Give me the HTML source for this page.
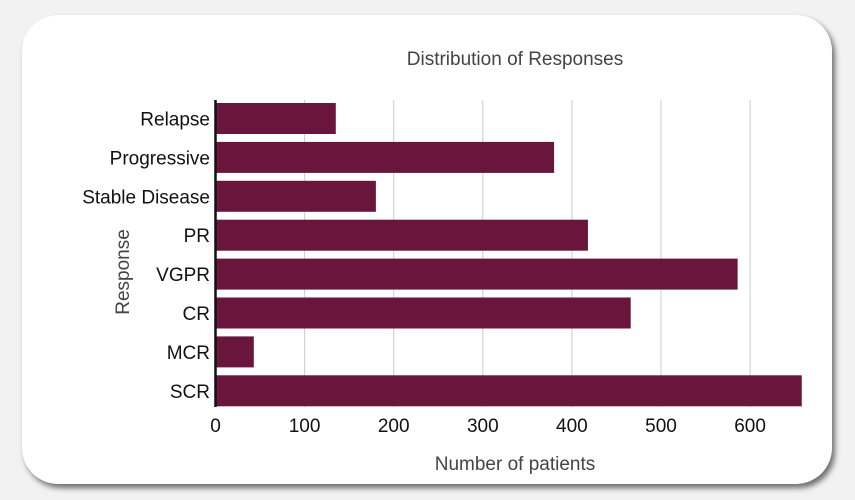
<!DOCTYPE html>
<html><head><meta charset="utf-8"><style>
html,body{margin:0;padding:0;background:#f2f2f2;width:855px;height:500px;overflow:hidden}
#card{position:absolute;left:22px;top:15px;width:810px;height:469px;background:#fff;border-radius:36px;box-shadow:3px 4px 6px rgba(0,0,0,0.55)}
svg{position:absolute;left:0;top:0}
text{font-family:"Liberation Sans",sans-serif}
</style></head><body>
<div id="card"></div>
<svg id="chart" width="855" height="500"></svg>
<script>
const categories=["Relapse","Progressive","Stable Disease","PR","VGPR","CR","MCR","SCR"];
const values=[135,380,180,418,586,466,43,658];
const ticks=[0,100,200,300,400,500,600];
const svg=document.getElementById('chart');
const NS='http://www.w3.org/2000/svg';
const x0=215.5,xs=0.891,top0=101,pitch=38.9,bh=31;
const X=v=>x0+v*xs;
const Y=i=>top0+i*pitch+2;
function mk(t,a){const e=document.createElementNS(NS,t);for(const k in a)e.setAttribute(k,a[k]);svg.appendChild(e);return e;}
ticks.forEach(t=>{
  if(t>0){const g=mk('line',{x1:X(t),x2:X(t),y1:100,y2:407,stroke:'#ccc','stroke-width':1});
  
  }
  const l=mk('text',{x:X(t),y:432,'text-anchor':'middle','font-size':19,fill:'#111'});l.textContent=t;
  
  
});
categories.forEach((c,i)=>{
  const r=mk('rect',{x:X(0),y:Y(i),width:X(values[i])-X(0),height:bh,fill:'#6a163c'});
  
  
  const l=mk('text',{x:210,y:Y(i)+bh/2+7,'text-anchor':'end','font-size':19,fill:'#111'});l.textContent=c;
  
  
});
const ax=mk('line',{x1:215.5,x2:215.5,y1:100,y2:407,stroke:'#111','stroke-width':2.5});


const ti=mk('text',{x:515,y:65,'text-anchor':'middle','font-size':19,fill:'#444'});ti.textContent='Distribution of Responses';


const xt=mk('text',{x:515,y:470,'text-anchor':'middle','font-size':19,fill:'#444'});xt.textContent='Number of patients';


const yt=mk('text',{x:0,y:0,'text-anchor':'middle','font-size':19,fill:'#444',transform:'translate(129,272) rotate(-90)'});yt.textContent='Response';


</script>
</body></html>
